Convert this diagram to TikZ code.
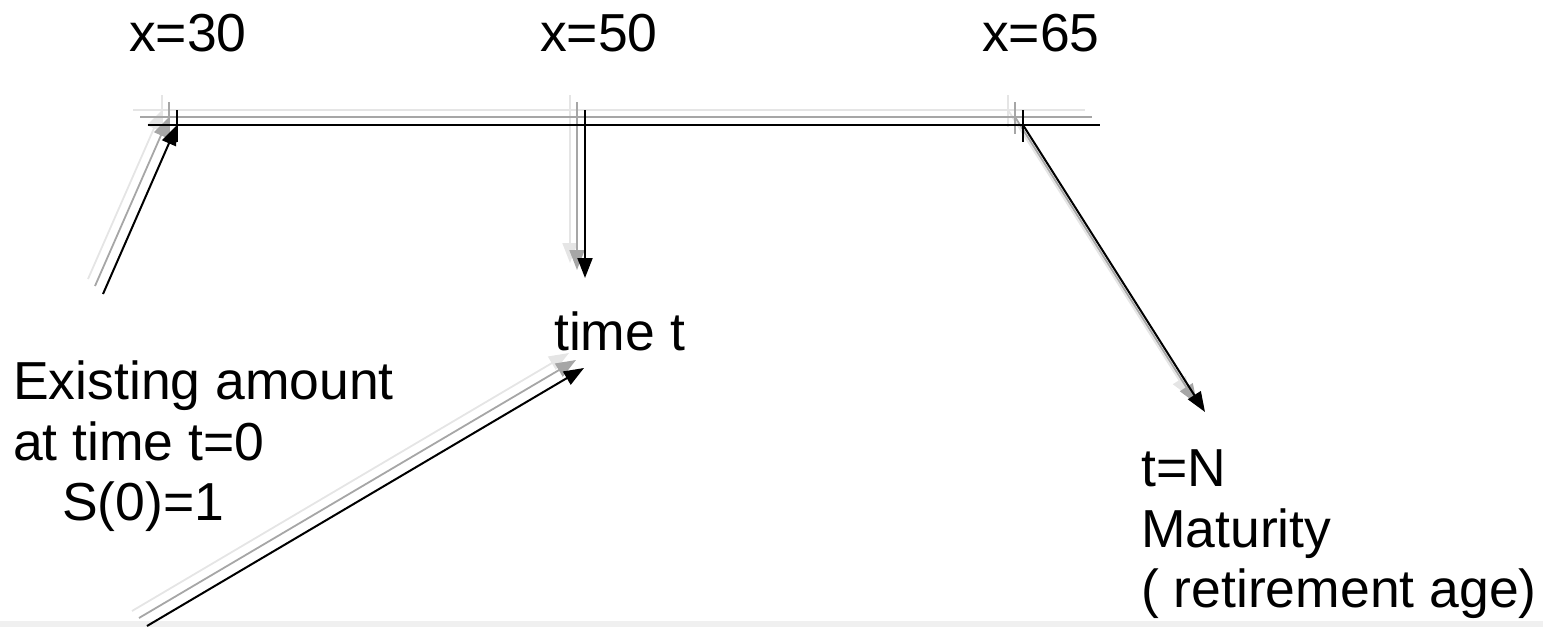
\documentclass[tikz,border=0pt]{standalone}
\usepackage{fontspec}
\setmainfont{Liberation Sans}
\usetikzlibrary{arrows.meta}
\tikzset{
  lbl/.style={anchor=base west, inner sep=0pt, font=\fontsize{53.5}{60}\selectfont},
  main/.style={line width=2pt, black},
  sh1/.style={line width=1.8pt, black!35},
  sh2/.style={line width=1.8pt, black!10},
  arr/.style={-{Triangle[length=20pt,width=15pt]}},
}
\begin{document}
\begin{tikzpicture}[x=1pt,y=-1pt]
\useasboundingbox (0,0) rectangle (1543,627);
\fill[black!6] (0,621) rectangle (1543,627);
% coordinates
\coordinate (L0) at (148,125); \coordinate (L1) at (1100,125);
\coordinate (T30) at (177,125); \coordinate (T50) at (585,125); \coordinate (T65) at (1023,125);
\coordinate (A1s) at (103,294); \coordinate (A2e) at (585,278);
\coordinate (A3e) at (1205,412); \coordinate (A4s) at (147,626); \coordinate (A4e) at (584,368);
% shadows (offset up-left)
\foreach \o/\s in {15/sh2, 8/sh1}{
  \draw[\s] ([shift={(-\o,-\o)}]L0) -- ([shift={(-\o,-\o)}]L1);
  \foreach \t in {T30,T50,T65}{
    \draw[\s] ([shift={(-\o,-\o-15)}]\t) -- ([shift={(-\o,-\o+17)}]\t);
  }
  \draw[\s,arr] ([shift={(-\o,-\o)}]A1s) -- ([shift={(-\o,-\o)}]T30);
  \draw[\s,arr] ([shift={(-\o,-\o)}]T50) -- ([shift={(-\o,-\o)}]A2e);
  \draw[\s,arr] ([shift={(-\o,-\o)}]T65) -- ([shift={(-\o,-\o)}]A3e);
  \draw[\s,arr] ([shift={(-\o,-\o)}]A4s) -- ([shift={(-\o,-\o)}]A4e);
}
% main
\draw[main] (L0) -- (L1);
\foreach \t in {T30,T50,T65}{
  \draw[main] ([shift={(0,-15)}]\t) -- ([shift={(0,17)}]\t);
}
\draw[main,arr] (A1s) -- (T30);
\draw[main,arr] (T50) -- (A2e);
\draw[main,arr] (T65) -- (A3e);
\draw[main,arr] (A4s) -- (A4e);
% labels
\node[lbl] (x30) at (129,51) {x=30};
\node[lbl] (x50) at (540,51) {x=50};
\node[lbl] (x65) at (982,51) {x=65};
\node[lbl] (tt) at (554,350) {time t};
\node[lbl] (e1) at (13,399) {Existing amount};
\node[lbl] (e2) at (13,460) {at time t=0};
\node[lbl] (e3) at (62,520) {S(0)=1};
\node[lbl] (m1) at (1141,486) {t=N};
\node[lbl] (m2) at (1141,547) {Maturity};
\node[lbl] (m3) at (1141,607) {( retirement age)};
\end{tikzpicture}
\end{document}
